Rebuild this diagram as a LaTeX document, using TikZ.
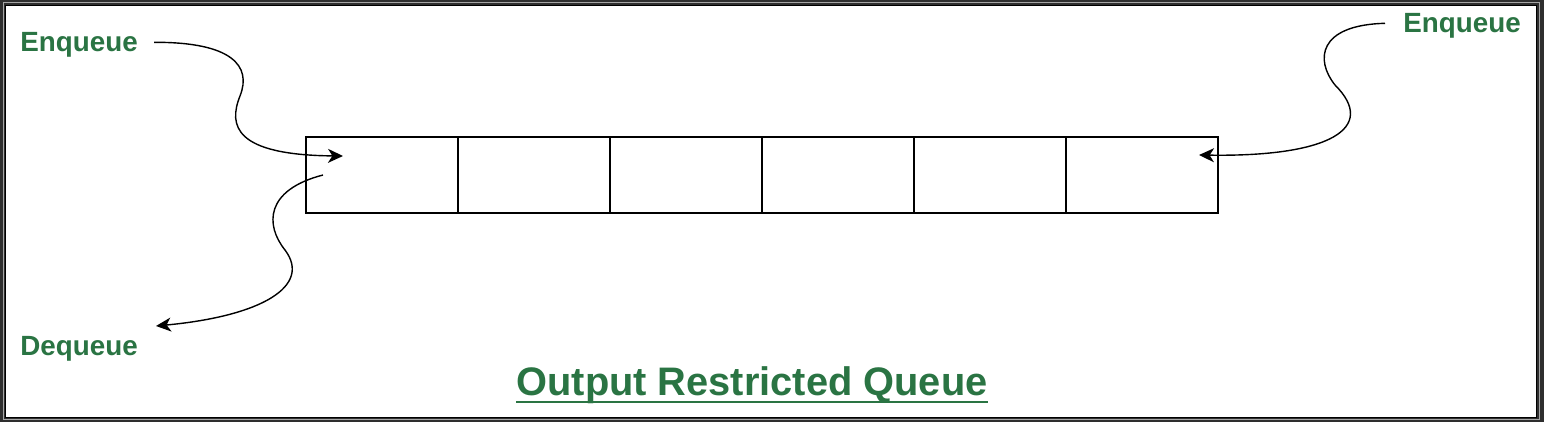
\documentclass[tikz,border=0pt]{standalone}
\usepackage{xcolor}
\usepackage{fontspec}
\setmainfont{Liberation Sans}
\usepackage{tikz}
\usetikzlibrary{arrows.meta, positioning, calc}

\definecolor{gfggreen}{HTML}{2A7443}
\definecolor{framegray}{HTML}{2E2E2E}

\tikzset{
  cell/.style={draw, line width=0.6pt, minimum width=76pt, minimum height=38pt, inner sep=0pt, outer sep=0pt},
  oplabel/.style={text=gfggreen, font=\fontsize{13.9}{16}\selectfont\bfseries, inner sep=0pt, anchor=base west},
  wavy/.style={draw, line width=0.7pt, -{Stealth[length=7.5pt,width=7pt,inset=2.2pt]}}
}

\begin{document}
\begin{tikzpicture}[x=0.5pt, y=-0.5pt]
                % frame
                \useasboundingbox (0,0) rectangle (1544,422);
                \fill[framegray] (0,0) rectangle (1544,422);
                \draw[gray!70, line width=0.5pt] (3,3) rectangle (1539,419.5);
                \filldraw[fill=white, draw=black, line width=0.5pt] (5.5,5.5) rectangle (1536,417.5);
                % queue cells
                \foreach \i in {1,...,6}
                    \node[cell] (q\i) at ({306+76+(\i-1)*152},175) {};
                % labels
                \node[oplabel] (enqL) at (20,52) {Enqueue};
                \node[oplabel] (deqL) at (20,356) {Dequeue};
                \node[oplabel] (enqR) at (1403,33) {Enqueue};
                \node[text=gfggreen, font=\fontsize{19.9}{23}\selectfont\bfseries, inner sep=0pt, anchor=base] (title) at (752,396) {Output Restricted Queue};
                \draw[gfggreen, line width=1pt] ([yshift=-3.2pt]title.base west) -- ([yshift=-3.2pt]title.base east);
                % arrow ends
                \coordinate (inL) at (343,156);
                \coordinate (outL) at (323,175);
                \coordinate (outD) at (156,326);
                \coordinate (inR) at (1199,155);
                % curved arrows
                \draw[wavy] ([xshift=8pt,yshift=1.5pt]enqL.east) .. controls (232,42) and (252,66) .. (240,96)
                    .. controls (228,126) and (235,155) .. (inL);
                \draw[wavy] (outL) .. controls (265,190) and (265,225) .. (285,250)
                    .. controls (312,286) and (262,316) .. (outD);
                \draw[wavy] ([xshift=-9pt,yshift=1.5pt]enqR.west) .. controls (1318,25) and (1315,60) .. (1335,85)
                    .. controls (1378,128) and (1330,157) .. (inR);
            \end{tikzpicture}
\end{document}
